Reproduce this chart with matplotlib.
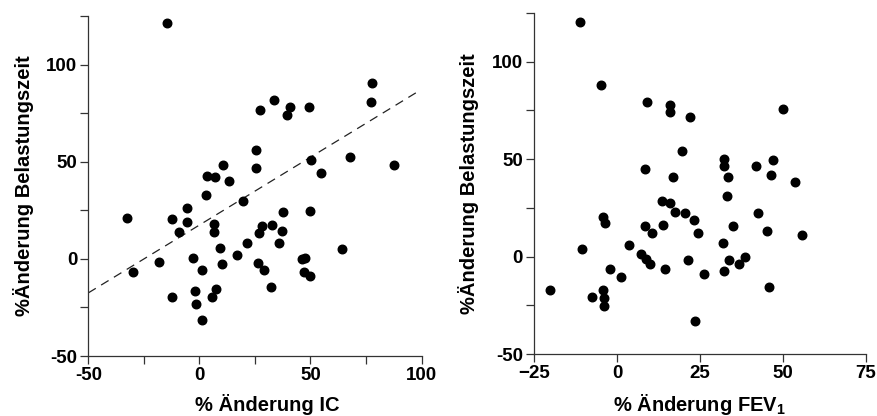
import matplotlib.pyplot as plt

plt.rcParams['font.family'] = ['Liberation Sans', 'DejaVu Sans']
plt.rcParams['font.weight'] = 'bold'
plt.rcParams['axes.labelweight'] = 'bold'
plt.rcParams['mathtext.fontset'] = 'custom'
plt.rcParams['mathtext.bf'] = 'Liberation Sans:bold'
plt.rcParams['mathtext.rm'] = 'Liberation Sans:bold'

# Left panel: % change IC vs % change exercise time
ic_x = [-14.7, 77.7, 77.2, 33.7, 40.8, 39.3, 27.4, 49.5, 25.5, 25.3,
        10.5, 3.4, 7.2, 13.5, 3.0, 19.6, 50.1, 67.9, 87.6, 54.9,
        -5.5, -5.7, -12.4, -32.7, -9.0, 6.4, 6.4, 37.8, 49.6, 28.2,
        26.8, 32.5, 37.1, 35.7, 21.4, 9.3, 16.8, 64.2, -2.9, -18.3,
        -29.8, 1.1, 10.2, 26.2, 29.1, 46.2, 47.7, 46.9, 49.6, -2.0,
        7.5, 32.2, -12.3, 5.5, -1.7, 1.2]
ic_y = [121.4, 90.6, 80.8, 81.8, 78.2, 74.3, 76.7, 78.0, 56.1, 47.0,
        48.5, 42.7, 42.4, 40.3, 33.1, 29.8, 50.8, 52.7, 48.5, 44.1,
        26.1, 19.2, 20.8, 21.1, 13.9, 17.8, 13.6, 24.4, 24.7, 16.8,
        13.2, 17.3, 14.6, 8.4, 8.2, 5.7, 2.1, 5.3, 0.7, -1.4,
        -6.5, -5.7, -2.6, -2.2, -5.5, -0.2, 0.3, -6.9, -8.9, -16.6,
        -15.4, -14.4, -19.4, -19.4, -23.2, -31.7]
fit_x = [-50, 98]
fit_y = [-17.5, 85.9]

# Right panel: % change FEV1 vs % change exercise time
fev_x = [-11.1, -4.9, 9.1, 15.9, 16.0, 22.1, 50.1, 19.6, 32.2, 32.2,
         33.4, 8.5, 17.0, 41.8, 47.0, 46.4, 53.8, 33.2, 13.7, 16.1,
         17.6, 20.4, 23.3, 42.5, -4.2, -3.6, 8.4, 14.0, 10.5, 24.3,
         35.1, 45.3, 55.8, 3.7, -10.4, 7.2, 8.8, 9.9, 21.3, 32.0,
         33.9, 38.5, 36.7, -2.0, 1.1, 14.5, 26.3, 32.2, 46.0, -20.1,
         -4.2, -7.4, -3.9, -3.9, 23.5]
fev_y = [120.1, 87.9, 79.4, 77.7, 74.1, 71.6, 75.6, 54.2, 50.1, 46.3,
         40.7, 44.8, 40.7, 46.2, 49.4, 41.9, 38.5, 31.3, 28.4, 27.6,
         22.8, 22.1, 18.7, 22.1, 20.4, 17.0, 15.5, 16.2, 12.1, 12.3,
         15.5, 12.9, 11.1, 5.8, 4.1, 1.5, -1.4, -3.9, -1.9, 7.0,
         -1.9, -0.2, -3.9, -6.6, -10.4, -6.6, -9.2, -7.2, -15.7, -17.4,
         -17.0, -20.8, -21.5, -25.6, -32.9]

ylabel = '%Änderung Belastungszeit'

fig = plt.figure(figsize=(8.77, 4.16), dpi=100)
ax1 = fig.add_axes([0.1007, 0.1442, 0.380, 0.817])
ax2 = fig.add_axes([0.609, 0.149, 0.378, 0.820])

ax1.scatter(ic_x, ic_y, s=38, color='black', zorder=3)
ax1.plot(fit_x, fit_y, color='#222222', lw=0.9, linestyle=(0, (7, 5)))
ax1.set_xlim(-50, 100)
ax1.set_ylim(-50, 125)
ax1.set_xticks(range(-50, 101, 25))
ax1.set_xticklabels(['-50', '', '0', '', '50', '', '100'])
ax1.set_xlabel('% Änderung IC', fontsize=14.5)
ax1.xaxis.set_label_coords(0.536, -0.112)

ax2.scatter(fev_x, fev_y, s=38, color='black', zorder=3)
ax2.set_xlim(-25, 75)
ax2.set_ylim(-50, 125)
ax2.set_xticks(range(-25, 76, 25))
ax2.set_xlabel(r'% Änderung FEV$_{\mathbf{1}}$', fontsize=14.5, labelpad=7)

for ax in (ax1, ax2):
    ax.set_yticks(range(-50, 126, 25))
    ax.set_yticklabels(['-50', '', '0', '', '50', '', '100', ''])
    ax.set_ylabel(ylabel, fontsize=14.5, labelpad=9)
    ax.spines['top'].set_visible(False)
    ax.spines['right'].set_visible(False)
    for sp in ('left', 'bottom'):
        ax.spines[sp].set_color('#333333')
        ax.spines[sp].set_linewidth(0.9)
    ax.tick_params(direction='out', length=6, width=0.9, color='#333333',
                   labelsize=13.5, pad=2)
    for lbl in ax.get_xticklabels() + ax.get_yticklabels():
        lbl.set_fontweight('bold')

fig.savefig('out.png', dpi=100)
